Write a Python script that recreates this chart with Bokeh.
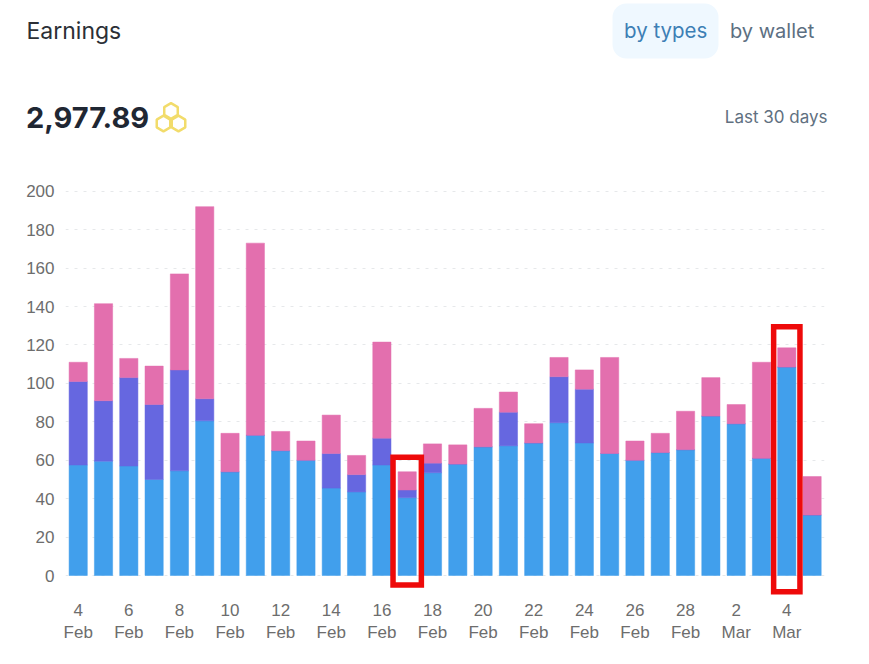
import math
from bokeh.plotting import figure
from bokeh.layouts import column
from bokeh.embed import file_html
from bokeh.resources import INLINE
from bokeh.core.properties import value
from bokeh.models import FixedTicker, Range1d

days = ["4 Feb","5 Feb","6 Feb","7 Feb","8 Feb","9 Feb","10 Feb","11 Feb","12 Feb","13 Feb",
        "14 Feb","15 Feb","16 Feb","17 Feb","18 Feb","19 Feb","20 Feb","21 Feb","22 Feb","23 Feb",
        "24 Feb","25 Feb","26 Feb","27 Feb","28 Feb","1 Mar","2 Mar","3 Mar","4 Mar","5 Mar"]
blue = [57.5,59.5,57,50,54.5,80.5,54,73,65,60,45.5,43.5,57.5,40.5,53.5,58,67,67.5,69,79.5,69,63.5,60,64,65.5,83,79,61,108.5,31.5]
purple = [43.5,31.5,46,39,52.5,11.5,0,0,0,0,18,9,14,4,5,0,0,17.5,0,24,28,0,0,0,0,0,0,0,0,0]
pink = [10,50.5,10,20,50,100,20,100,10,10,20,10,50,9.5,10,10,20,10.5,10,10,10,50,10,10,20,20,10,50,10,20]
y_ticks = [0,20,40,60,80,100,120,140,160,180,200]
tick_labels = {i: "\n".join(d.split()) for i, d in enumerate(days) if i % 2 == 0 and i < 29}
highlights = [(13, 61.5, -5, 0.56), (28, 129.5, -8.5, 0.52)]

W = 861
HH = 174
TOP = 16
FRAME = 408
CH = 482

# header: its ranges are the page's pixels
h = figure(width=W, height=HH, output_backend="svg", toolbar_location=None,
           x_range=Range1d(0, W), y_range=Range1d(HH, 0), min_border=0, outline_line_color=None)
h.frame_align = False
h.axis.visible = False
h.grid.visible = False
h.quad(left=[612], right=[718], top=[3], bottom=[58], fill_color="#eff8ff", line_color=None, border_radius=14)

def lab(x, y, text, size, color, font="Inter", style="normal", align="left"):
    h.text(x=[x], y=[y], text=[text], text_font=value(font), text_font_size=value(size), text_color=color,
           text_font_style=style, text_align=align, text_baseline="alphabetic")

lab(26, 30, "Earnings", "23px", "#2b2f36")
lab(623.5, 30, "by types", "20.5px", "#3d7fb5")
lab(729.5, 30, "by wallet", "20px", "#5c6f82")
lab(25.5, 117, "2,977.89", "29px", "#1f2733", style="bold")
lab(827, 116, "Last 30 days", "17px", "#607080", align="right")

for cx, cy in [(170.5, 110.5), (163, 123), (178, 123)]:
    r = 7.8
    px = [cx + r*math.cos(math.radians(60*k+30)) for k in range(6)]
    py = [cy + r*math.sin(math.radians(60*k+30)) for k in range(6)]
    h.patch(px, py, fill_alpha=0, line_color="#f2dc6b", line_width=2.5)

p = figure(width=W, height=CH, output_backend="svg", toolbar_location=None,
           x_range=Range1d(-0.502, 29.49), y_range=Range1d(-11.97, 200.4),
           min_border_left=65, min_border_right=W-824, min_border_top=TOP, min_border_bottom=CH-TOP-FRAME,
           background_fill_color="white", border_fill_color="white")
p.frame_align = False
p.outline_line_color = None
p.xgrid.visible = False
g = p.ygrid[0]
g.ticker = FixedTicker(ticks=y_ticks)
g.grid_line_color = "#e6e8ea"
g.grid_line_dash = "3 6"
g.grid_line_width = 1

xs = list(range(len(days)))
bottom2 = blue
bottom3 = [a + b for a, b in zip(blue, purple)]
tops = [a + b for a, b in zip(bottom3, pink)]
bw = 0.72
p.vbar(x=xs, bottom=0, top=blue, width=bw, fill_color="#419fec", line_color="#419fec", line_width=0.5)
p.vbar(x=xs, bottom=bottom2, top=bottom3, width=bw, fill_color="#6667e0", line_color="#6667e0", line_width=0.5)
p.vbar(x=xs, bottom=bottom3, top=tops, width=bw, fill_color="#e36fae", line_color="#e36fae", line_width=0.5)
for i, t, b, hw in highlights:
    p.quad(left=[i-hw], right=[i+hw], top=[t], bottom=[b], fill_color=None,
           line_color="#ee0a0a", line_width=5.5, line_join="miter")

ya = p.yaxis[0]
ya.ticker = FixedTicker(ticks=y_ticks)
xa = p.xaxis[0]
xa.ticker = FixedTicker(ticks=list(tick_labels))
xa.major_label_overrides = tick_labels
for a in (xa, ya):
    a.axis_line_color = None
    a.major_tick_line_color = None
    a.minor_tick_line_color = None
    a.major_label_text_font = "Liberation Sans"
    a.major_label_text_font_size = "17px"
    a.major_label_text_color = "#6d6d6d"
ya.major_label_standoff = 5
xa.major_label_standoff = -4
xa.major_label_orientation = "horizontal"

page = column(h, p, spacing=0)
open("out.html", "w").write(file_html(page, INLINE))
